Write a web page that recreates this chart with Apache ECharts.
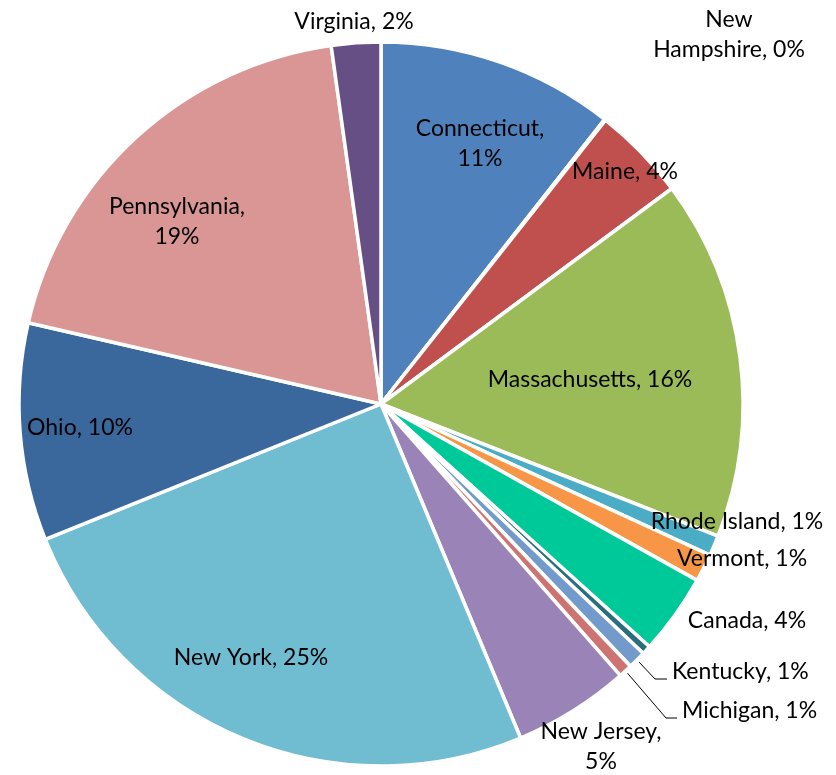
<!DOCTYPE html>
<html><head><meta charset="utf-8">
<script src="https://cdn.jsdelivr.net/npm/echarts@6/dist/echarts.min.js"></script>
<style>html,body{margin:0;padding:0;background:#fff}#chart{width:836px;height:775px}</style>
</head><body><div id="chart"></div>
<script>
// ---- data ----
const categories = ['Connecticut','New Hampshire','Maine','Massachusetts','Rhode Island','Vermont','Canada','Other','Kentucky','Michigan','New Jersey','New York','Ohio','Pennsylvania','Virginia'];
const shares = [10.6, 0.05, 4.2, 16.1, 0.9, 1.25, 3.6, 0.4, 0.8, 0.6, 5.2, 25.2, 9.7, 19.2, 2.2];
const hiddenLabels = ['Other'];

// ---- styles ----
const colors = ['#4F81BD','#8064A2','#C0504D','#9BBB59','#4BACC6','#F79646','#00C999','#2A6E7E','#729ACA','#CD7371','#9A84B7','#70BCD1','#3B689C','#D99694','#664F84'];
const CX = 381, CY = 404, R = 362;
const labelSpots = {
  'Virginia': [354, 22, 'center'],
  'New Hampshire': [729, 35, 'center'],
  'Connecticut': [480, 144, 'center'],
  'Maine': [625, 172, 'center'],
  'Massachusetts': [590, 380, 'center'],
  'Rhode Island': [737, 522, 'center'],
  'Vermont': [742, 559, 'center'],
  'Canada': [747, 621, 'center'],
  'Kentucky': [672, 672, 'left'],
  'Michigan': [682, 711, 'left'],
  'New Jersey': [601, 747, 'center'],
  'New York': [251, 658, 'center'],
  'Ohio': [80, 428, 'center'],
  'Pennsylvania': [177, 222, 'center']
};
const leaderElbows = {
  'Kentucky': [[655, 679], [667, 679]],
  'Michigan': [[666, 718], [677, 718]]
};
const wrapAfterComma = ['Connecticut','Pennsylvania','New Jersey'];

const total = shares.reduce((a, b) => a + b, 0);
function midAngle(i) {
  let s = 0;
  for (let k = 0; k < i; k++) s += shares[k];
  return (s + shares[i] / 2) / total * 2 * Math.PI;
}

const data = categories.map((name, i) => {
  const item = { name, value: shares[i], itemStyle: { color: colors[i] } };
  if (hiddenLabels.includes(name)) item.label = { show: false };
  if (leaderElbows[name]) item.labelLine = { show: true, lineStyle: { color: '#000', width: 1 } };
  return item;
});

const chart = echarts.init(document.getElementById('chart'), null, { renderer: 'canvas' });
chart.setOption({
  backgroundColor: '#fff',
  animation: false,
  series: [{
    type: 'pie',
    center: [CX, CY],
    radius: R,
    startAngle: 90,
    clockwise: true,
    avoidLabelOverlap: false,
    data,
    itemStyle: { borderColor: '#fff', borderWidth: 3.5 },
    emphasis: { disabled: true },
    label: {
      show: true,
      position: 'outside',
      color: '#000',
      fontFamily: 'Lato',
      fontSize: 23,
      lineHeight: 30,
      formatter: p => {
        const pct = Math.round(p.value / total * 100);
        if (p.name === 'New Hampshire') return 'New\nHampshire, ' + pct + '%';
        if (wrapAfterComma.includes(p.name)) return p.name + ',\n' + pct + '%';
        return p.name + ', ' + pct + '%';
      }
    },
    labelLine: { show: false },
    labelLayout: params => {
      const name = categories[params.dataIndex];
      const spot = labelSpots[name];
      if (!spot) return {};
      const out = { x: spot[0], y: spot[1], align: spot[2], verticalAlign: 'middle' };
      const elbow = leaderElbows[name];
      if (elbow) {
        const a = midAngle(params.dataIndex);
        const r0 = R + 3;
        out.labelLinePoints = [[CX + r0 * Math.sin(a), CY - r0 * Math.cos(a)], elbow[0], elbow[1]];
      }
      return out;
    }
  }]
});
</script></body></html>
